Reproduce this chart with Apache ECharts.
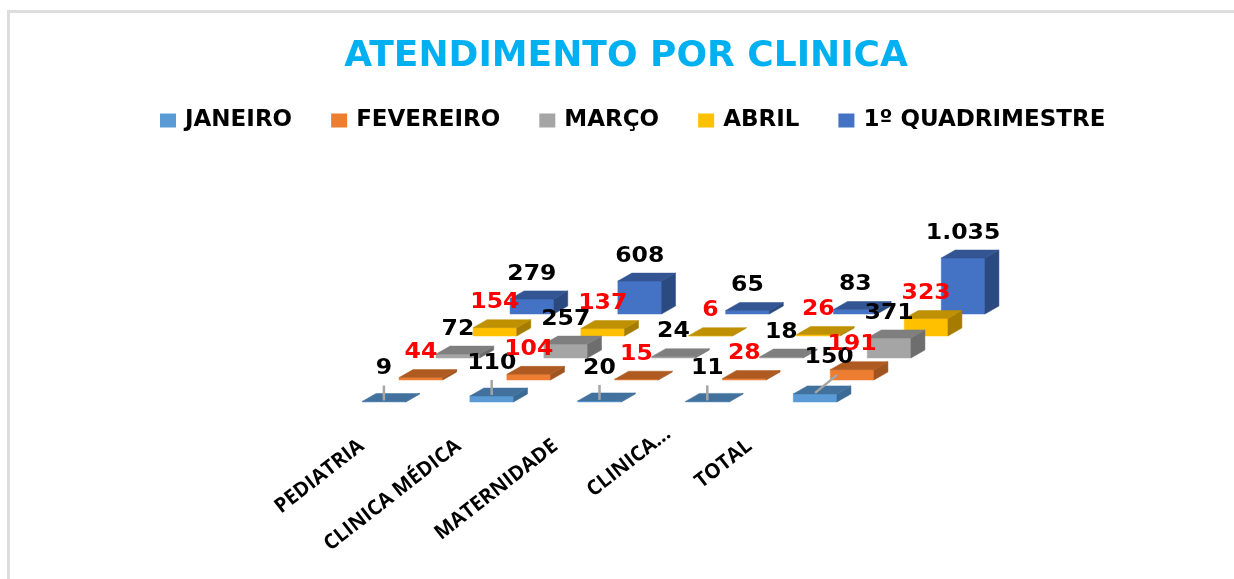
<!DOCTYPE html>
<html>
<head>
<meta charset="utf-8">
<script src="https://cdn.jsdelivr.net/npm/echarts@6/dist/echarts.min.js"></script>
<style>html,body{margin:0;padding:0;background:#fff}#c{width:1234px;height:579px}</style>
</head>
<body>
<div id="c"></div>
<script>
const categories = ['PEDIATRIA', 'CLINICA MÉDICA', 'MATERNIDADE', 'CLINICA...', 'TOTAL'];
const seriesNames = ['JANEIRO', 'FEVEREIRO', 'MARÇO', 'ABRIL', '1º QUADRIMESTRE'];
const janeiro = [9, 110, 20, 11, 150];
const fevereiro = [44, 104, 15, 28, 191];
const marco = [72, 257, 24, 18, 371];
const abril = [154, 137, 6, 26, 323];
const quadrimestre = [279, 608, 65, 83, 1035];
const allValues = [janeiro, fevereiro, marco, abril, quadrimestre];
const valueText = v => v >= 1000 ? String(v).replace(/(\d)(\d{3})$/, '$1.$2') : String(v);

const frontColors = ['#5B9BD5', '#ED7D31', '#A5A5A5', '#FFC000', '#4472C4'];
const topColors = ['#41719C', '#AE5A21', '#7F7F7F', '#BF9000', '#335593'];
const sideColors = ['#3A6B94', '#A0541F', '#6E6E6E', '#A67C00', '#2B4A80'];
const labelColors = ['#000', '#FF0000', '#000', '#FF0000', '#000'];

const BOX_RATIO = 0.405, ROW_DX = 37, ROW_DY = -22, DEPTH_DX = 14, DEPTH_DY = -8;
const FONT = '"DejaVu Sans", sans-serif';

function box(seriesIdx) {
  return function (params, api) {
    const p = api.coord([api.value(0), api.value(1)]);
    const b = api.coord([api.value(0), 0]);
    const w = api.size([1, 0])[0] * BOX_RATIO;
    const ox = seriesIdx * ROW_DX, oy = seriesIdx * ROW_DY;
    const x0 = p[0] - w / 2 + ox, x1 = x0 + w, yt = p[1] + oy, yb = b[1] + oy;
    const poly = (pts, fill) => ({ type: 'polygon', shape: { points: pts }, style: { fill, stroke: fill, lineWidth: 0.5 } });
    return { type: 'group', children: [
      poly([[x0, yb], [x1, yb], [x1, yt], [x0, yt]], frontColors[seriesIdx]),
      poly([[x1, yb], [x1 + DEPTH_DX, yb + DEPTH_DY], [x1 + DEPTH_DX, yt + DEPTH_DY], [x1, yt]], sideColors[seriesIdx]),
      poly([[x0, yt], [x1, yt], [x1 + DEPTH_DX, yt + DEPTH_DY], [x0 + DEPTH_DX, yt + DEPTH_DY]], topColors[seriesIdx])
    ]};
  };
}

const janLeaderLean = [0, 0, 0, 0, 1];

function labelItem(params, api) {
  const cat = api.value(0), val = api.value(1), s = api.value(2);
  const p = api.coord([cat, val]);
  const cx = p[0] + s * ROW_DX, top = p[1] + s * ROW_DY, backTop = top + DEPTH_DY;
  const text = (x, y) => ({ type: 'text', x, y, scaleX: 1.07, style: {
    text: valueText(val), fill: labelColors[s], font: 'bold 22px ' + FONT, align: 'center', verticalAlign: 'middle' } });
  if (s === 0) {
    const lean = janLeaderLean[cat];
    return { type: 'group', children: [
      { type: 'line', shape: { x1: cx, y1: top - 1, x2: cx + lean * 22, y2: top - 16 - lean * 3 }, style: { stroke: '#A5A5A5', lineWidth: 2.5 } },
      text(cx + lean * 14, backTop - 25 - lean * 4)
    ]};
  }
  return text(cx, backTop - 17);
}

const labelData = [];
allValues.forEach((vals, s) => vals.forEach((v, c) => labelData.push([c, v, s])));

const barSeries = seriesNames.map((name, s) => ({
  name, type: 'custom', xAxisIndex: 0, yAxisIndex: 0, z: 10 - s,
  coordinateSystem: 'cartesian2d', silent: true,
  itemStyle: { color: frontColors[s] },
  renderItem: box(s),
  encode: { x: 0, y: 1 },
  data: allValues[s].map((v, c) => [c, v])
}));

const chart = echarts.init(document.getElementById('c'), null, { renderer: 'canvas' });
chart.setOption({
  animation: false,
  backgroundColor: '#fff',
  title: {
    text: 'ATENDIMENTO POR CLINICA', left: 621, top: 34, textAlign: 'center',
    textStyle: { color: '#00B0F0', fontFamily: FONT, fontWeight: 'bold', fontSize: 36 }
  },
  legend: {
    data: seriesNames, left: 155, top: 104, icon: 'rect', itemWidth: 16, itemHeight: 14, itemGap: 39,
    textStyle: { color: '#000', fontFamily: FONT, fontWeight: 'bold', fontSize: 23, padding: [0, 0, 0, 4] }
  },
  grid: [
    { left: 330, width: 539, bottom: 177, height: 108.2, containLabel: false },
    { left: 344.5, width: 485, top: 385, height: 24, containLabel: false }
  ],
  xAxis: [
    { type: 'category', gridIndex: 0, data: categories, axisLine: { show: false }, axisTick: { show: false }, axisLabel: { show: false } },
    { type: 'category', gridIndex: 1, position: 'bottom',
      data: categories.map(c => c === 'CLINICA...' ? { value: c, textStyle: { padding: [0, 20, 0, 0] } } : c),
      axisLine: { show: false }, axisTick: { show: false },
      axisLabel: { interval: 0, rotate: 38, margin: 10, color: '#000', fontFamily: '"Open Sans", sans-serif', fontWeight: 'bold', fontSize: 20.5, padding: [0, 40, 0, 0] } }
  ],
  yAxis: [
    { type: 'value', gridIndex: 0, min: 0, max: 2000, interval: 500, show: false },
    { type: 'value', gridIndex: 1, show: false }
  ],
  graphic: [
    { type: 'rect', shape: { x: 7, y: 10, width: 1227, height: 3 }, style: { fill: '#DDDDDD' }, silent: true },
    { type: 'rect', shape: { x: 7, y: 10, width: 3, height: 569 }, style: { fill: '#DDDDDD' }, silent: true }
  ],
  series: barSeries.concat([{
    name: 'rótulos', type: 'custom', xAxisIndex: 0, yAxisIndex: 0, z: 20, silent: true,
    coordinateSystem: 'cartesian2d', renderItem: labelItem,
    encode: { x: 0, y: 1 }, data: labelData
  }])
});
</script>
</body>
</html>
